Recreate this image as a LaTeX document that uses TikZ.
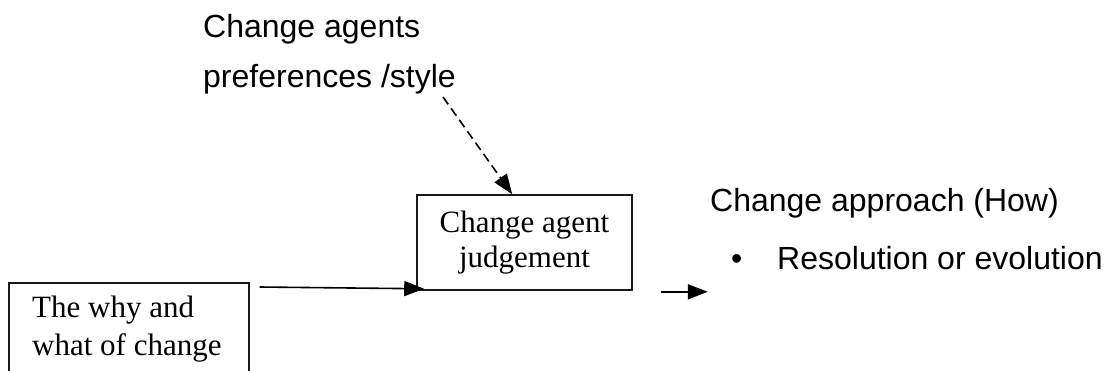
\documentclass[tikz,border=0pt]{standalone}
\usepackage{fontspec}
\setmainfont{Liberation Serif}
\newfontfamily\labelsans{Liberation Sans}
\usetikzlibrary{arrows.meta,calc}

\tikzset{
  boxline/.style={draw=black!90, line width=1.6pt},
  serifbig/.style={font=\fontsize{31}{35}\selectfont},
  sansbig/.style={font=\labelsans\fontsize{32}{38}\selectfont},
  plaintext/.style={anchor=base west, inner sep=0pt},
  solidarrow/.style={line width=1.6pt, -{Triangle[length=20pt,width=15pt]}},
  dasharrow/.style={line width=1.6pt, dash pattern=on 9pt off 5pt,
                    -{Triangle[length=20pt,width=15pt]}},
}

\begin{document}
\begin{tikzpicture}[x=1pt, y=-1pt]
  \useasboundingbox (0,0) rectangle (1111,371);

  % input box, open at the bottom edge of the page
  \node[boxline, anchor=north west, minimum width=240pt, minimum height=130pt,
        inner sep=0pt] (whybox) at (8,282) {};
  \node[plaintext, serifbig] (why1) at (32,318) {The why and};
  \node[plaintext, serifbig] (why2) at (32,355) {what of change};

  % judgement box
  \node[boxline, serifbig, align=center, minimum width=215pt,
        minimum height=95pt, inner sep=0pt] (judge) at (524.5,242.5)
        {Change agent\\judgement};

  % influence from the change agent
  \node[plaintext, sansbig] (pref1) at (203,38) {Change agents};
  \node[plaintext, sansbig] (pref2) at (203,88) {preferences /style};
  \coordinate (dstart) at (443,97);

  % outcome
  \node[plaintext, sansbig] (how) at (710,212) {Change approach (How)};
  \node[plaintext, sansbig] (bullet) at (731,270) {\textbullet};
  \node[plaintext, sansbig] (resol) at (777,270) {Resolution or evolution};

  % connectors
  \draw[solidarrow] ($(whybox.north east)+(10,5)$) -- ($(judge.south west)+(8,-2)$);
  \draw[dasharrow] (dstart) -- ($(judge.north west)+(96,0)$);
  \coordinate (ostart) at ($(judge.south east)+(28,1)$);
  \coordinate (oend) at ($(judge.south east)+(75,1)$);
  \draw[solidarrow] (ostart) -- (oend);
\end{tikzpicture}
\end{document}
